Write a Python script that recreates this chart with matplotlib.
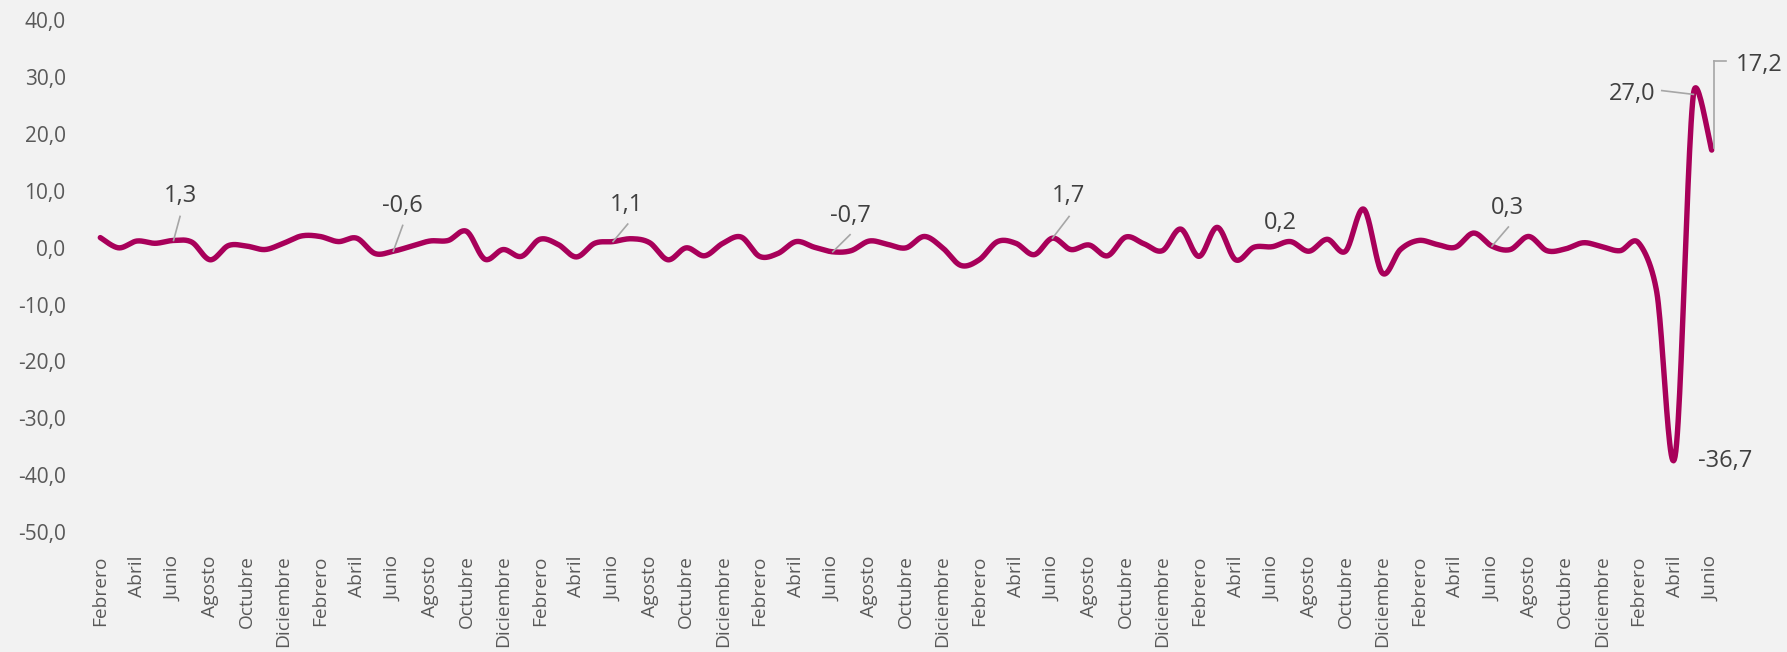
import numpy as np
import matplotlib
matplotlib.use("Agg")
import matplotlib.pyplot as plt
from matplotlib.transforms import offset_copy

# ---- data: monthly values, Feb 2013 .. Jun 2020 ----
month_names = ["Enero", "Febrero", "Marzo", "Abril", "Mayo", "Junio", "Julio",
               "Agosto", "Septiembre", "Octubre", "Noviembre", "Diciembre"]
start_month = 1   # Febrero (0-based)
values = [
    1.8, 0.0, 1.2, 0.8, 1.3, 1.0, -2.1, 0.4, 0.3, -0.3, 0.8,            # 2013 Feb-Dec
    2.1, 2.0, 1.1, 1.7, -1.0, -0.6, 0.3, 1.2, 1.3, 2.9, -2.0, -0.3,     # 2014
    -1.5, 1.5, 0.6, -1.6, 0.8, 1.1, 1.6, 0.9, -2.1, 0.0, -1.4, 0.8,     # 2015
    1.9, -1.5, -1.0, 1.1, 0.1, -0.7, -0.5, 1.2, 0.6, 0.0, 2.0, 0.0,     # 2016
    -3.1, -2.1, 1.1, 0.8, -1.2, 1.7, -0.3, 0.5, -1.4, 1.9, 0.7, -0.5,   # 2017
    3.3, -1.5, 3.6, -2.1, 0.1, 0.2, 1.1, -0.6, 1.5, -0.6, 6.8, -4.4,    # 2018
    -0.3, 1.3, 0.6, 0.1, 2.6, 0.3, -0.3, 2.0, -0.5, -0.2, 0.9, 0.2,     # 2019
    -0.5, 0.9, -7.8, -36.7, 27.0, 17.2,                                 # 2020 Jan-Jun
]
labels = [month_names[(start_month + k) % 12] for k in range(len(values))]

# data labels: index -> offsets (text center, leader path) in pixels
annot = {
    4:  dict(text=(6.5, 44), leader=[(6.5, 24), (0, 0)]),
    16: dict(text=(8.7, 45.5), leader=[(9.4, 25.8), (0, 0)]),
    28: dict(text=(13.7, 36.8), leader=[(14.7, 17.5), (0, 0)]),
    40: dict(text=(17.3, 35.4), leader=[(17.3, 17.1), (0, 0)]),
    52: dict(text=(15.9, 41.7), leader=[(16.6, 21.7), (0, 0)]),
    64: dict(text=(7.9, 23.7), leader=None),
    76: dict(text=(15.8, 38.1), leader=[(16.4, 19.1), (0, 0)]),
    86: dict(text=(50.2, -4.8), leader=None),
    87: dict(text=(-61.6, 0), leader=[(-31.6, 3.8), (0, 0)]),
    88: dict(text=(47.3, 85.2), leader=[(14, 88.9), (2.3, 88.9), (2.3, 1.9)]),
}

W, H = 1787, 652
left, right, top, bottom = 100.3, 1711.7, 20.5, 532.0
YMIN, YMAX = -50, 40


# ---- smoothing (Excel-like Bezier smoothing, computed in screen space) ----
def smooth(xs, ys, kx, ky, n=24):
    P = np.column_stack([np.asarray(xs, float) * kx, np.asarray(ys, float) * ky])
    P = np.vstack([P[0], P, P[-1]])
    out = []
    t = np.linspace(0, 1, n, endpoint=False)[:, None]
    for k in range(1, len(P) - 2):
        p0, p1, p2, p3 = P[k - 1], P[k], P[k + 1], P[k + 2]
        d12 = np.linalg.norm(p2 - p1)
        a1 = (p2 - p0) / 6
        a2 = (p3 - p1) / 6
        for a in (a1, a2):
            L = np.linalg.norm(a)
            if L > d12 / 2 and L > 0:
                a *= (d12 / 2) / L
        c1 = p1 + a1
        c2 = p2 - a2
        b = (1 - t) ** 3 * p1 + 3 * (1 - t) ** 2 * t * c1 + 3 * (1 - t) * t ** 2 * c2 + t ** 3 * p2
        out.append(b)
    out.append(P[-2][None, :])
    B = np.vstack(out)
    return B[:, 0] / kx, B[:, 1] / ky


fig = plt.figure(figsize=(W / 100, H / 100), dpi=100)
fig.patch.set_facecolor("#F2F2F2")
ax = fig.add_axes([left / W, 1 - bottom / H, (right - left) / W, (bottom - top) / H])
ax.set_facecolor("#F2F2F2")

font = "Open Sans"
tick_color = "#595959"
line_color = "#A8005A"

x = np.arange(len(values))
kx = (right - left) / (len(values) - 1)
ky = (bottom - top) / (YMAX - YMIN)
sx, sy = smooth(x, values, kx, ky)
ax.plot(sx, sy, color=line_color, lw=3.9, solid_capstyle="round",
        solid_joinstyle="round", clip_on=False)

ax.set_xlim(0, len(values) - 1)
ax.set_ylim(YMIN, YMAX)
yt = np.arange(YMIN, YMAX + 1, 10)
ax.set_yticks(yt)
ax.set_yticklabels([f"{v:.1f}".replace(".", ",") for v in yt],
                   fontfamily=font, fontsize=15, color=tick_color)
ax.set_xticks(x[::2])
ax.set_xticklabels(labels[::2], rotation=90, fontfamily=font, fontsize=13.8,
                   color=tick_color, ha="center", va="top")
ax.tick_params(axis="y", length=0, pad=25)
ax.tick_params(axis="x", length=0, pad=17)
for s in ax.spines.values():
    s.set_visible(False)

# data labels with leader lines
for i, a in annot.items():
    v = values[i]
    tx, ty = a["text"]
    ax.annotate(f"{v:.1f}".replace(".", ","), xy=(i, v), xytext=(tx, ty),
                textcoords="offset pixels", ha="center", va="center",
                fontfamily=font, fontsize=17, color="#404040", annotation_clip=False)
    if a["leader"]:
        pts = a["leader"]
        for (x0, y0), (x1, y1) in zip(pts[:-1], pts[1:]):
            t0 = offset_copy(ax.transData, fig=fig, x=x0, y=y0, units="dots")
            t1 = offset_copy(ax.transData, fig=fig, x=x1, y=y1, units="dots")
            p0 = t0.transform((i, v))
            p1 = t1.transform((i, v))
            fig.add_artist(plt.Line2D([p0[0] / W, p1[0] / W], [p0[1] / H, p1[1] / H],
                                      transform=fig.transFigure, color="#A6A6A6", lw=1.2))

fig.savefig("out.png", dpi=100, facecolor=fig.get_facecolor())
